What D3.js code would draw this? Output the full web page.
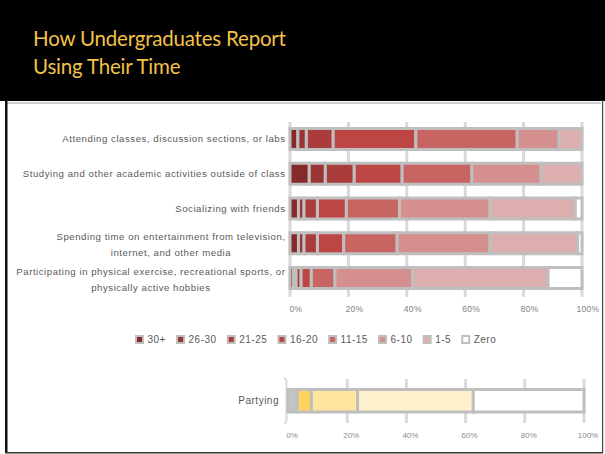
<!DOCTYPE html>
<html>
<head>
<meta charset="utf-8">
<script src="https://cdn.jsdelivr.net/npm/d3@7/dist/d3.min.js"></script>
<style>
  html, body { margin: 0; padding: 0; background: #ffffff; }
  svg { display: block; }
</style>
</head>
<body>
<svg id="chart" width="605" height="454"></svg>
<script>
// Hours per week spent on each activity (share of respondents, %)
const hourBands = ["30+", "26-30", "21-25", "16-20", "11-15", "6-10", "1-5", "Zero"];
const bandColors = ["#85292a", "#9b3434", "#aa3c3b", "#bd4544", "#c86563", "#d48f8e", "#dcaeae", "#ffffff"];

const activities = [
  ["Attending classes, discussion sections, or labs"],
  ["Studying and other academic activities outside of class"],
  ["Socializing with friends"],
  ["Spending time on entertainment from television,", "internet, and other media"],
  ["Participating in physical exercise, recreational sports, or", "physically active hobbies"]
];
const attending     = [2.7, 2.9, 9.2, 28.3, 34.7, 14.4, 7.8, 0];
const studying      = [6.6, 5.5, 9.9, 16.4, 23.9, 23.7, 14.0, 0];
const socializing   = [2.9, 1.9, 4.6, 9.9, 18.2, 31.0, 29.2, 2.3];
const entertainment = [2.9, 1.9, 4.6, 9.0, 18.3, 31.8, 30.0, 1.5];
const exercise      = [1.2, 0.9, 1.7, 3.5, 8.1, 26.6, 46.4, 11.6];
const activityValues = [attending, studying, socializing, entertainment, exercise];

// Partying (separate small chart)
const partyLabel = "Partying";
const partyValues = [3.1, 4.8, 15.6, 39.1, 37.4];
const partyColors = ["#c4c4c4", "#ffd45c", "#ffe59c", "#fff1cc", "#ffffff"];

const tickValues = [0, 20, 40, 60, 80, 100];

const svg = d3.select("#chart");
const W = 605, H = 454;

// ---- slide frame ----
svg.append("rect").attr("x", 0).attr("y", 0).attr("width", W).attr("height", 101).attr("fill", "#000");
svg.append("rect").attr("x", 7).attr("y", 102).attr("width", 594).attr("height", 2).attr("fill", "#d0d0d0");
svg.append("rect").attr("x", 5).attr("y", 100).attr("width", 2.5).attr("height", 353).attr("fill", "#111");
svg.append("rect").attr("x", 5).attr("y", 452).attr("width", 598).attr("height", 1.5).attr("fill", "#333");
svg.append("rect").attr("x", 602).attr("y", 100).attr("width", 1.2).attr("height", 353).attr("fill", "#444");

const title = svg.append("text")
  .attr("font-family", "Lato, 'Open Sans', sans-serif")
  .attr("font-size", 20.5)
  .attr("letter-spacing", -0.2)
  .attr("fill", "#f2c14a");
title.append("tspan").attr("x", 33).attr("y", 46).text("How Undergraduates Report");
title.append("tspan").attr("x", 33).attr("y", 74).text("Using Their Time");

const labelFont = "'Liberation Sans', Arial, sans-serif";
const textGrey = "#595959";
const gridGrey = "#d9d9d9";
const barStroke = "#bfbfbf";

// ---- main stacked bar chart ----
const x = d3.scaleLinear().domain([0, 100]).range([290, 582]);
const y = d3.scaleBand().domain(d3.range(activities.length)).range([121.6, 295.4]).paddingInner(0.31).paddingOuter(0.155);

const main = svg.append("g");

// gridlines
main.append("g").selectAll("line").data(tickValues).join("line")
  .attr("x1", d => x(d)).attr("x2", d => x(d))
  .attr("y1", 122).attr("y2", 297)
  .attr("stroke", gridGrey).attr("stroke-width", 3);

// bars
const rows = main.append("g").selectAll("g").data(activityValues).join("g")
  .attr("transform", (d, i) => `translate(0,${y(i)})`);

rows.selectAll("rect").data(vals => {
  let acc = 0;
  return vals.map((v, k) => { const s = acc; acc += v; return { s, e: acc, k }; });
}).join("rect")
  .attr("x", d => x(d.s))
  .attr("width", d => Math.max(0, x(d.e) - x(d.s)))
  .attr("y", 1.5)
  .attr("height", y.bandwidth() - 3)
  .attr("fill", d => bandColors[d.k])
  .attr("stroke", barStroke)
  .attr("stroke-width", 3);

// axis with percent labels
const xAxis = d3.axisBottom(x).tickValues(tickValues).tickFormat(d => d + "%").tickSize(0).tickPadding(0);
const axG = main.append("g").attr("transform", "translate(0,306)").call(xAxis);
axG.select(".domain").remove();
axG.selectAll("text")
  .attr("dx", 5.5)
  .attr("letter-spacing", 0.3)
  .attr("font-family", labelFont).attr("font-size", 8.5).attr("fill", "#7f7f7f");

// category labels, right-aligned block, lines centred within block
const labelRight = 285.5;
const lineGap = 15.8;
activities.forEach((lines, i) => {
  const g = main.append("g");
  const texts = lines.map((ln, j) => g.append("text")
    .attr("font-family", labelFont).attr("font-size", 9.6).attr("fill", textGrey)
    .attr("letter-spacing", 0.55)
    .attr("text-anchor", "middle")
    .attr("dominant-baseline", "central")
    .attr("y", y(i) + y.bandwidth() / 2 + (j - (lines.length - 1) / 2) * lineGap + (lines.length > 1 ? 1.5 : 0))
    .text(ln));
  const maxW = d3.max(texts, t => t.node().getComputedTextLength());
  texts.forEach(t => t.attr("x", labelRight - maxW / 2));
});

// legend
const legend = svg.append("g").attr("transform", "translate(0,339.5)");
let lx = 136;
hourBands.forEach((name, k) => {
  const item = legend.append("g");
  item.append("rect").attr("x", lx).attr("y", -3.5).attr("width", 7).attr("height", 7)
    .attr("fill", bandColors[k]).attr("stroke", barStroke).attr("stroke-width", 2);
  const t = item.append("text").attr("x", lx + 11.5).attr("y", 0)
    .attr("dominant-baseline", "central")
    .attr("letter-spacing", 0.5)
    .attr("font-family", labelFont).attr("font-size", 10).attr("fill", textGrey)
    .text(name);
  lx += 11.5 + t.node().getComputedTextLength() + 11.1;
});

// ---- partying chart ----
const xp = d3.scaleLinear().domain([0, 100]).range([288, 584]);
const py0 = 388, py1 = 413.5;
const party = svg.append("g");

party.append("g").selectAll("line").data(tickValues.slice(1)).join("line")
  .attr("x1", d => xp(d)).attr("x2", d => xp(d))
  .attr("y1", 379).attr("y2", 423)
  .attr("stroke", gridGrey).attr("stroke-width", 3);

// axis bracket
party.append("path")
  .attr("d", `M284,378.5 Q286.5,378.5 286.5,381 L286.5,420.5 Q286.5,423 284,423`)
  .attr("fill", "none").attr("stroke", gridGrey).attr("stroke-width", 2);

let pacc = 0;
const pSegs = partyValues.map((v, k) => { const s = pacc; pacc += v; return { s, e: pacc, k }; });
party.append("g").selectAll("rect").data(pSegs).join("rect")
  .attr("x", d => xp(d.s))
  .attr("width", d => xp(d.e) - xp(d.s))
  .attr("y", py0 + 1.5)
  .attr("height", py1 - py0 - 3)
  .attr("fill", d => partyColors[d.k])
  .attr("stroke", barStroke)
  .attr("stroke-width", 3);

const pAxis = d3.axisBottom(xp).tickValues(tickValues).tickFormat(d => d + "%").tickSize(0).tickPadding(0);
const pAxG = party.append("g").attr("transform", "translate(0,432)").call(pAxis);
pAxG.select(".domain").remove();
pAxG.selectAll("text")
  .attr("dx", 3.5)
  .attr("font-family", labelFont).attr("font-size", 8).attr("fill", "#8c8c8c");

party.append("text")
  .attr("x", 279).attr("y", (py0 + py1) / 2)
  .attr("text-anchor", "end").attr("dominant-baseline", "central")
  .attr("letter-spacing", 0.5)
  .attr("font-family", labelFont).attr("font-size", 10).attr("fill", textGrey)
  .text(partyLabel);
</script>
</body>
</html>
